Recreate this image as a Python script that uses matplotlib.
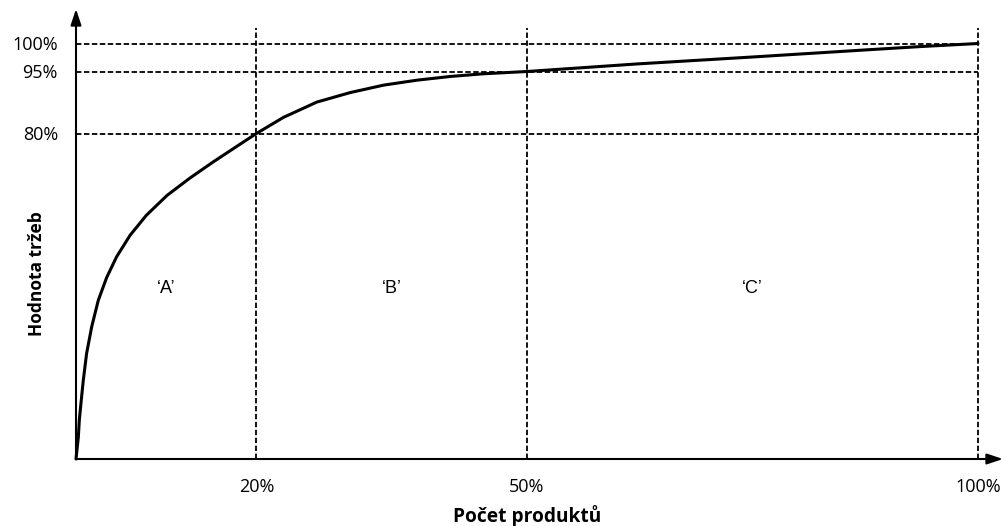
import numpy as np
import matplotlib
matplotlib.use("Agg")
import matplotlib.pyplot as plt

# cumulative share of revenue vs. share of products (ABC analysis)
products = [0, 0.26, 0.37, 0.55, 0.81, 1.18, 1.74, 2.47, 3.4, 4.5, 6.0, 7.8,
            10.1, 12.6, 15.2, 17.8, 20, 23.0, 26.7, 30.4, 34.1, 37.8, 41.5,
            45.2, 50, 62.2, 75.1, 88.0, 93.6, 100]
revenue = [0, 5.4, 9.6, 13.7, 19.4, 26, 32.5, 39, 44.6, 49.7, 55, 59.9,
           64.8, 69.0, 73.0, 76.8, 80, 83.9, 87.6, 89.9, 91.7, 92.9, 93.8,
           94.45, 95, 96.35, 97.6, 98.9, 99.45, 100]

x_breaks = [20, 50, 100]
x_labels = ["20%", "50%", "100%"]
y_breaks = [80, 95, 100]
y_labels = ["80%", "95%", "100%"]
zones = ["\u2018A\u2019", "\u2018B\u2019", "\u2018C\u2019"]

# schematic y axis: the upper part is stretched
y_anchor = [-20, 0, 80, 95, 100, 120]
h_anchor = [-81.4, 0, 325.5, 387.5, 415.5, 527.5]


def fwd(v):
    return np.interp(v, y_anchor, h_anchor)


def inv(h):
    return np.interp(h, h_anchor, y_anchor)


fig = plt.figure(figsize=(10.03, 5.26), dpi=100)
ax = fig.add_axes([76 / 1003, 67 / 526, 927 / 1003, 450 / 526])
ax.set_yscale("function", functions=(fwd, inv))
ax.set_xlim(0, 927 / 9.02)
ax.set_ylim(0, float(inv(450)))

for s in ax.spines.values():
    s.set_visible(False)

dash = dict(color="black", lw=1.3, linestyles=(0, (3, 1.4)))
ax.hlines(y_breaks, 0, 100, **dash)
ax.vlines(x_breaks, 0, 102.8, **dash)

ax.plot(products, revenue, color="black", lw=2.2, solid_capstyle="round",
        solid_joinstyle="round", clip_on=False, zorder=3)

arrow = dict(arrowstyle="-|>,head_length=0.6,head_width=0.2", lw=1.5,
             color="black", mutation_scale=16, shrinkA=0, shrinkB=0)
ax.annotate("", xy=(0, 1), xytext=(0, 0), xycoords="axes fraction",
            arrowprops=arrow)
ax.annotate("", xy=(1, 0), xytext=(0, 0), xycoords="axes fraction",
            arrowprops=arrow)

tick_font = dict(family=["Open Sans", "DejaVu Sans"], size=13)
ax.set_xticks(x_breaks)
ax.set_xticklabels(x_labels, **tick_font)
ax.set_yticks(y_breaks)
ax.set_yticklabels(y_labels, **tick_font)
ax.yaxis.set_minor_locator(matplotlib.ticker.NullLocator())
ax.tick_params(axis="x", length=0, pad=14)
ax.tick_params(axis="y", length=0, pad=13)

label_font = dict(family=["Open Sans", "DejaVu Sans"], fontweight="bold")
ax.set_xlabel("Počet produktů", size=13.8, **label_font)
ax.xaxis.set_label_coords(451 / 927, -57 / 450)
ax.xaxis.label.set_va("center")
ax.set_ylabel("Hodnota tržeb", size=12.5, **label_font)
ax.yaxis.set_label_coords(-39 / 927, 185 / 450)
ax.yaxis.label.set_va("center")

lefts = [0] + x_breaks[:-1]
for lo, hi, name in zip(lefts, x_breaks, zones):
    ax.text((lo + hi) / 2, 42, name, ha="center", va="center",
            family=["Liberation Sans", "DejaVu Sans"], size=13)

fig.savefig("out.png", dpi=100)
